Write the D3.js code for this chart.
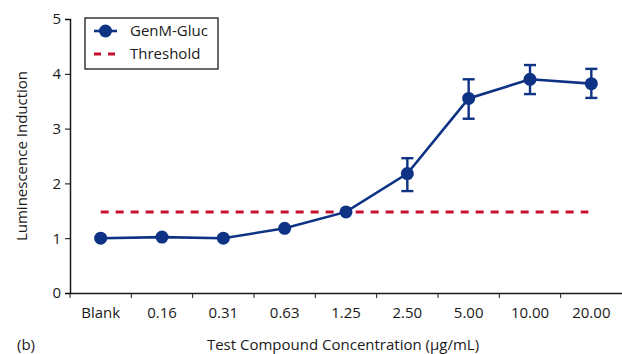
<!DOCTYPE html>
<html>
<head>
<meta charset="utf-8">
<script src="https://cdn.jsdelivr.net/npm/d3@7"></script>
<style>
  body { margin: 0; background: #fff; }
  text { font-family: "Open Sans", "Noto Sans", sans-serif; fill: #1a1a1a; }
</style>
</head>
<body>
<script>
// Data
var categories = ["Blank", "0.16", "0.31", "0.63", "1.25", "2.50", "5.00", "10.00", "20.00"];
var induction = [1.00, 1.02, 1.00, 1.18, 1.48, 2.18, 3.55, 3.90, 3.82];
var errUpper = [null, null, null, null, null, 2.46, 3.90, 4.16, 4.09];
var errLower = [null, null, null, null, null, 1.86, 3.18, 3.63, 3.56];
var threshold = 1.48;
var yTicks = [0, 1, 2, 3, 4, 5];

var blue = "#0e3284";
var red = "#c8102e";

// Set margin, width and height
var margin = {top: 19, right: 0, bottom: 61, left: 70};
var width = 622 - margin.left - margin.right;
var height = 354 - margin.top - margin.bottom;

var svg = d3.select("body").append("svg")
    .attr("width", 622)
    .attr("height", 354);
var g = svg.append("g")
    .attr("transform", "translate(" + margin.left + "," + margin.top + ")");

// Scaling
var xScale = d3.scaleBand().domain(categories).range([0, width]);
var yScale = d3.scaleLinear().domain([0, 5]).range([height, 0]);
var cx = function(c) { return xScale(c) + xScale.bandwidth() / 2; };

// Axes
var yAxis = d3.axisLeft(yScale).tickValues(yTicks).tickFormat(d3.format("d"))
    .tickSize(5).tickPadding(4);
var yG = g.append("g").call(yAxis);
yG.selectAll("text").style("font-size", "15px");

var xAxis = d3.axisBottom(xScale).tickSize(0).tickPadding(14);
var xG = g.append("g").attr("transform", "translate(0," + height + ")").call(xAxis);
xG.selectAll("text").style("font-size", "15px");
// ticks at the band boundaries
xG.selectAll("line.bound")
    .data(categories)
    .enter().append("line")
    .attr("class", "bound")
    .attr("x1", function(d) { return xScale(d); })
    .attr("x2", function(d) { return xScale(d); })
    .attr("y1", 0).attr("y2", 5)
    .attr("stroke", "#1a1a1a");
[xG, yG].forEach(function(a) {
  a.select(".domain").attr("stroke", "#1a1a1a").attr("stroke-width", 1.5);
});

// Threshold line
g.append("line")
    .attr("x1", cx(categories[0]))
    .attr("x2", cx(categories[categories.length - 1]) - 3)
    .attr("y1", yScale(threshold))
    .attr("y2", yScale(threshold))
    .attr("stroke", red)
    .attr("stroke-width", 3)
    .attr("stroke-dasharray", "8,7");

// Series line
var points = categories.map(function(c, i) {
  return {c: c, v: induction[i], hi: errUpper[i], lo: errLower[i]};
});
g.append("path")
    .datum(points)
    .attr("fill", "none")
    .attr("stroke", blue)
    .attr("stroke-width", 2.6)
    .attr("d", d3.line().x(function(d) { return cx(d.c); }).y(function(d) { return yScale(d.v); }));

// Error bars
var eb = g.selectAll("g.err")
    .data(points.filter(function(d) { return d.hi !== null; }))
    .enter().append("g").attr("class", "err")
    .attr("stroke", blue).attr("stroke-width", 2.4);
eb.append("line")
    .attr("x1", function(d) { return cx(d.c); }).attr("x2", function(d) { return cx(d.c); })
    .attr("y1", function(d) { return yScale(d.hi); }).attr("y2", function(d) { return yScale(d.lo); });
eb.append("line")
    .attr("x1", function(d) { return cx(d.c) - 6; }).attr("x2", function(d) { return cx(d.c) + 6; })
    .attr("y1", function(d) { return yScale(d.hi); }).attr("y2", function(d) { return yScale(d.hi); });
eb.append("line")
    .attr("x1", function(d) { return cx(d.c) - 6; }).attr("x2", function(d) { return cx(d.c) + 6; })
    .attr("y1", function(d) { return yScale(d.lo); }).attr("y2", function(d) { return yScale(d.lo); });

// Markers
g.selectAll("circle.pt")
    .data(points)
    .enter().append("circle")
    .attr("class", "pt")
    .attr("cx", function(d) { return cx(d.c); })
    .attr("cy", function(d) { return yScale(d.v); })
    .attr("r", 6.5)
    .attr("fill", blue);

// Legend
var legend = svg.append("g").attr("transform", "translate(85,18)");
legend.append("rect")
    .attr("width", 133).attr("height", 51)
    .attr("fill", "#fff").attr("stroke", "#1a1a1a").attr("stroke-width", 1.3);
legend.append("line")
    .attr("x1", 9).attr("x2", 32).attr("y1", 13).attr("y2", 13)
    .attr("stroke", blue).attr("stroke-width", 2.6);
legend.append("circle").attr("cx", 20.5).attr("cy", 13).attr("r", 6.5).attr("fill", blue);
legend.append("line")
    .attr("x1", 9).attr("x2", 32).attr("y1", 36).attr("y2", 36)
    .attr("stroke", red).attr("stroke-width", 3).attr("stroke-dasharray", "7,7");
legend.append("text").attr("x", 45).attr("y", 18).style("font-size", "15px").text("GenM-Gluc");
legend.append("text").attr("x", 45).attr("y", 41).style("font-size", "15px").text("Threshold");

// Axis titles
svg.append("text")
    .attr("transform", "translate(27," + (margin.top + height / 2) + ") rotate(-90)")
    .attr("text-anchor", "middle")
    .style("font-size", "15px")
    .text("Luminescence Induction");
svg.append("text")
    .attr("x", 343).attr("y", 350)
    .attr("text-anchor", "middle")
    .style("font-size", "15px")
    .text("Test Compound Concentration (µg/mL)");
svg.append("text")
    .attr("x", 17).attr("y", 350)
    .style("font-size", "15px")
    .text("(b)");
</script>
</body>
</html>
